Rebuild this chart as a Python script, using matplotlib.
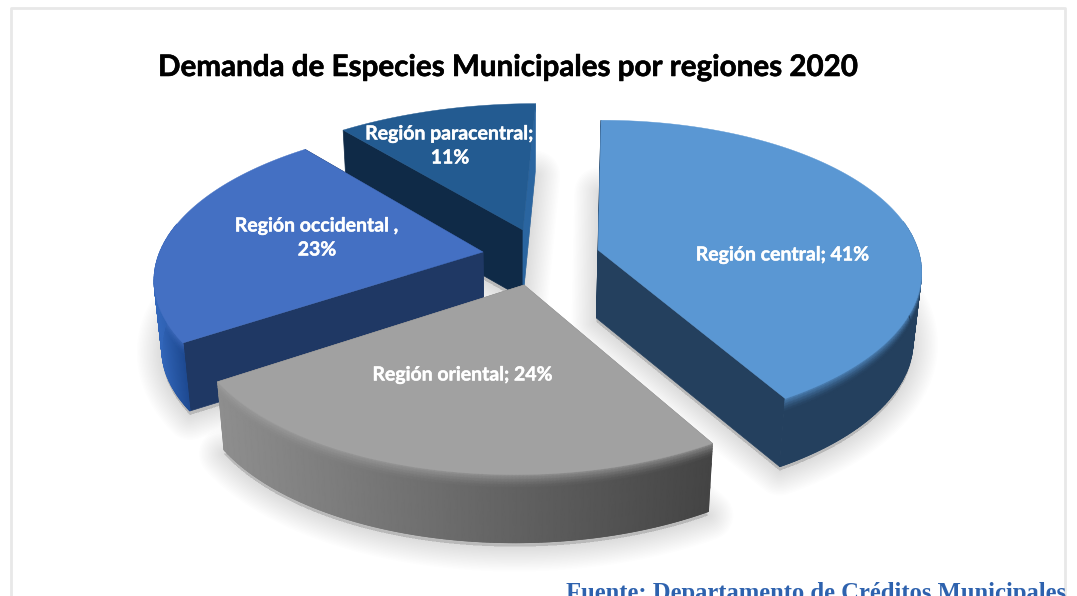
import numpy as np
import matplotlib
matplotlib.use("Agg")
import matplotlib.pyplot as plt
import matplotlib.patheffects as pe
from matplotlib.collections import LineCollection
from matplotlib.colors import to_rgb

# --- data ---
CATEGORIES = ["Región central", "Región oriental", "Región occidental", "Región paracentral"]
SHARES = [41, 24, 23, 11]
TITLE = "Demanda de Especies Municipales por regiones 2020"
SOURCE = "Fuente: Departamento de Créditos Municipales"

# --- style / layout ---
TOP = ["#5A97D3", "#A1A1A1", "#4470C3", "#235B91"]
SIDE_L = ["#24405E", "#8E8E8E", "#3367BB", "#235B91"]
SIDE_R = ["#24405E", "#444444", "#1E4A92", "#235B91"]
FACE_START = ["#24405E", "#888888", "#1F3864", "#0F2A47"]
FACE_END = ["#24405E", "#888888", "#1F3864", "#2A65A0"]
APEX = [(598, 250), (524, 285), (483, 252), (523, 230)]
RADIUS = [1.0, 1.03, 1.0, 0.97]
X_SCALE = [1.0, 1.0, 1.01, 1.06]
Y_SCALE = [1.0, 1.03, 1.0, 1.0]
SHEAR = [3, 9, 10, 13]
ORDER = [3, 2, 0, 1]
LABEL_POS = [(783, 255), (463, 375), (317, 238), (450, 146)]
LABEL_SEP = ["; ", "; ", " ,\n", ";\n"]
A, B, K, T = 320, 150, 0.156, 68

fig = plt.figure(figsize=(10.77, 5.96), dpi=100, facecolor="white")
ax = fig.add_axes([0, 0, 1, 1])
ax.set_xlim(0, 1077)
ax.set_ylim(596, 0)
ax.axis("off")


def project(i, theta):
    u, v = np.sin(theta) * RADIUS[i], np.cos(theta) * RADIUS[i]
    s = 1 / (1 + K * v)
    return (APEX[i][0] + A * X_SCALE[i] * u * s + SHEAR[i] * v,
            APEX[i][1] - B * Y_SCALE[i] * v * s)


def drop(x, y):
    return x - 0.021 * (x - 520), y + T


def blend(a, b, t):
    a, b = np.array(to_rgb(a)), np.array(to_rgb(b))
    return a + (b - a) * t


edges = np.cumsum([0] + SHARES) / sum(SHARES) * 2 * np.pi

# frame
ax.plot([11, 11, 1065, 1065], [596, 8, 8, 596], color="#E8E8E8", lw=2, zorder=0)

# soft shadows
for i in ORDER:
    th = np.linspace(edges[i], edges[i + 1], 90)
    x, y = project(i, th)
    xb, yb = drop(x, y)
    ax0, ay0 = drop(*APEX[i])
    px = np.r_[ax0, xb]
    py = np.r_[ay0, yb] + 4
    for lw in np.linspace(36, 0.5, 18):
        ax.fill(px, py, facecolor=(0, 0, 0, 0.006), edgecolor=(0, 0, 0, 0.006),
                lw=lw, joinstyle="round", zorder=1)

# wedges back to front
z = 2
for i in ORDER:
    th = np.linspace(edges[i], edges[i + 1], 160)
    x, y = project(i, th)
    xb, yb = drop(x, y)
    ap = APEX[i]
    apb = drop(*ap)

    ax.fill([ap[0], x[0], xb[0], apb[0]], [ap[1], y[0], yb[0], apb[1]],
            color=FACE_START[i], lw=0.5, zorder=z)
    ax.fill([ap[0], x[-1], xb[-1], apb[0]], [ap[1], y[-1], yb[-1], apb[1]],
            color=FACE_END[i], lw=0.5, zorder=z)

    # outer rim: only the part of the arc that faces the viewer
    keep = np.cos(th) < 0.2
    if keep.sum() > 2:
        xk, yk, xbk, ybk = x[keep], y[keep], xb[keep], yb[keep]
        x0, x1 = xk.min(), xk.max()
        tx = np.clip((xk - x0) / max(x1 - x0, 1), 0, 1)
        rows = np.r_[np.linspace(0, 0.2, 6), np.linspace(0.3, 1, 3)]
        X = np.outer(xk, 1 - rows) + np.outer(xbk, rows)
        Y = np.outer(yk, 1 - rows) + np.outer(ybk, rows)
        base = np.array([blend(SIDE_L[i], SIDE_R[i], t) for t in tx])
        C = np.zeros(X.shape + (3,))
        top_rgb = np.array(to_rgb(TOP[i]))
        for k, r in enumerate(rows):
            rim = max(0.0, 1 - r / 0.2) ** 1.5 * 0.75
            C[:, k] = base + (top_rgb - base) * rim
        ax.pcolormesh(X, Y, C, shading="gouraud", zorder=z + 0.05)
        segs = np.stack([np.c_[xbk[:-1], ybk[:-1]], np.c_[xbk[1:], ybk[1:]]], axis=1)
        ax.add_collection(LineCollection(segs, colors=base[:-1], linewidths=0.8, zorder=z + 0.06))

    ax.fill(np.r_[ap[0], x], np.r_[ap[1], y], color=TOP[i], lw=0.3, zorder=z + 0.2)
    z += 1

# labels
for i in range(len(CATEGORIES)):
    ax.text(*LABEL_POS[i], f"{CATEGORIES[i]}{LABEL_SEP[i]}{SHARES[i]}%", color="white",
            family="Lato", weight="bold", fontsize=14, ha="center", va="center",
            linespacing=1.5, zorder=20,
            path_effects=[pe.withStroke(linewidth=0.3, foreground="white")])

ax.text(158, 76, TITLE, color="black", family="Lato", weight="bold", fontsize=21.3,
        ha="left", va="baseline", zorder=20,
        path_effects=[pe.withStroke(linewidth=0.4, foreground="black")])
ax.text(566, 600, SOURCE, color="#2E62AE", family="Liberation Serif", weight="bold",
        fontsize=17.7, ha="left", va="baseline", zorder=20, clip_on=False)

fig.savefig("out.png", dpi=100)
